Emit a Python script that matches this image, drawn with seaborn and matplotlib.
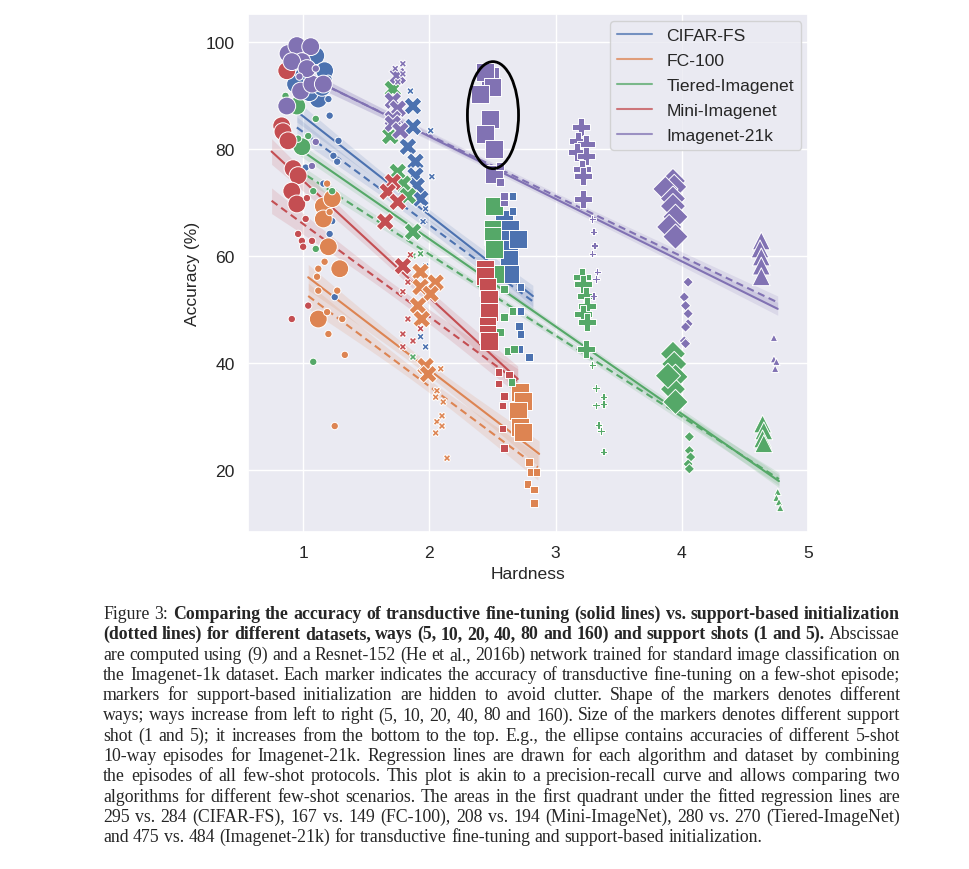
import matplotlib
matplotlib.use("Agg")
import matplotlib.pyplot as plt
import numpy as np
import pandas as pd
import seaborn as sns
from matplotlib.lines import Line2D
from matplotlib.patches import Ellipse

DATASETS = ["CIFAR-FS", "FC-100", "Tiered-Imagenet", "Mini-Imagenet", "Imagenet-21k"]
COLORS = ["#4C72B0", "#DD8452", "#55A868", "#C44E52", "#8172B3"]
WAYS = [5, 10, 20, 40, 80, 160]
WAY_MARKERS = ["o", "X", "s", "P", "D", "^"]

# episodes: (way, shot, hardness, accuracy)
cifar_fs = [
    (5, 5, 1.10, 97.4), (5, 5, 1.17, 94.6), (5, 5, 1.00, 93.5), (5, 5, 0.94, 92.1),
    (5, 5, 1.12, 89.3), (5, 5, 1.05, 90.5), (5, 5, 1.15, 91.5),
    (5, 1, 1.20, 93.1), (5, 1, 1.20, 89.3), (5, 1, 1.21, 86.2), (5, 1, 1.28, 81.5),
    (5, 1, 1.24, 78.7), (5, 1, 1.27, 77.6), (5, 1, 1.02, 76.5), (5, 1, 1.16, 73.5),
    (5, 1, 1.23, 66.5), (5, 1, 1.21, 64.1), (5, 1, 1.25, 52.3),
    (10, 5, 1.87, 88.0), (10, 5, 1.87, 84.1), (10, 5, 1.83, 80.4), (10, 5, 1.89, 77.6),
    (10, 5, 1.89, 75.0), (10, 5, 1.90, 73.1), (10, 5, 1.93, 70.7),
    (10, 1, 1.85, 90.8), (10, 1, 2.01, 83.4), (10, 1, 2.02, 74.8), (10, 1, 1.97, 68.8),
    (10, 1, 1.95, 66.4), (10, 1, 1.97, 58.1), (10, 1, 1.93, 44.9), (10, 1, 1.97, 43.0),
    (20, 5, 2.59, 66.9), (20, 5, 2.64, 65.0), (20, 5, 2.60, 63.2), (20, 5, 2.63, 61.3),
    (20, 5, 2.63, 59.4), (20, 5, 2.64, 56.6), (20, 5, 2.70, 63.2),
    (20, 1, 2.66, 71.2), (20, 1, 2.66, 68.4), (20, 1, 2.72, 54.2), (20, 1, 2.72, 49.7),
    (20, 1, 2.71, 46.9), (20, 1, 2.72, 45.4), (20, 1, 2.71, 42.6), (20, 1, 2.79, 41.1),
]

fc_100 = [
    (5, 5, 1.16, 69.3), (5, 5, 1.23, 70.7), (5, 5, 1.16, 66.9), (5, 5, 1.20, 61.7),
    (5, 5, 1.29, 57.6), (5, 5, 1.12, 48.2),
    (5, 1, 1.19, 73.5), (5, 1, 1.21, 68.2), (5, 1, 1.17, 58.9), (5, 1, 1.12, 57.6),
    (5, 1, 1.11, 56.1), (5, 1, 1.27, 53.5), (5, 1, 1.12, 53.5), (5, 1, 1.19, 49.5),
    (5, 1, 1.31, 48.2), (5, 1, 1.20, 45.4), (5, 1, 1.33, 41.5), (5, 1, 1.25, 28.2),
    (10, 5, 1.93, 57.0), (10, 5, 2.05, 55.0), (10, 5, 1.93, 54.2), (10, 5, 2.01, 52.9),
    (10, 5, 1.91, 50.7), (10, 5, 1.94, 48.2), (10, 5, 1.97, 39.4), (10, 5, 1.99, 37.9),
    (10, 1, 2.09, 38.9), (10, 1, 2.06, 34.8), (10, 1, 2.11, 32.7), (10, 1, 2.05, 33.6),
    (10, 1, 2.10, 30.1), (10, 1, 2.06, 29.0), (10, 1, 2.10, 28.2), (10, 1, 2.05, 26.9),
    (10, 1, 2.14, 22.2),
    (20, 5, 2.72, 34.6), (20, 5, 2.74, 32.9), (20, 5, 2.70, 31.0), (20, 5, 2.72, 28.0),
    (20, 5, 2.74, 27.1),
    (20, 1, 2.79, 21.5), (20, 1, 2.80, 19.6), (20, 1, 2.85, 19.6), (20, 1, 2.78, 17.4),
    (20, 1, 2.83, 16.4), (20, 1, 2.83, 13.8),
]

tiered_imagenet = [
    (5, 5, 0.95, 88.0), (5, 5, 0.99, 80.4),
    (5, 1, 0.86, 89.9), (5, 1, 1.10, 85.6), (5, 1, 1.04, 82.4), (5, 1, 0.96, 81.9),
    (5, 1, 1.10, 61.3), (5, 1, 1.08, 40.2), (5, 1, 1.08, 72.1), (5, 1, 1.23, 72.1),
    (10, 5, 1.71, 91.2), (10, 5, 1.69, 82.4), (10, 5, 1.75, 75.7), (10, 5, 1.79, 73.5),
    (10, 5, 1.83, 71.2), (10, 5, 1.87, 64.5),
    (10, 1, 1.87, 60.0), (10, 1, 1.93, 60.4), (10, 1, 1.87, 41.1),
    (20, 5, 2.51, 69.3), (20, 5, 2.50, 65.0), (20, 5, 2.50, 63.7), (20, 5, 2.51, 61.3),
    (20, 5, 2.52, 56.6),
    (20, 1, 2.59, 48.6), (20, 1, 2.66, 49.7), (20, 1, 2.56, 45.8), (20, 1, 2.62, 42.2),
    (20, 1, 2.67, 42.6), (20, 1, 2.59, 53.8), (20, 1, 2.65, 36.4),
    (40, 5, 3.21, 56.1), (40, 5, 3.22, 54.8), (40, 5, 3.24, 52.5), (40, 5, 3.25, 50.7),
    (40, 5, 3.22, 49.2), (40, 5, 3.25, 47.7), (40, 5, 3.24, 42.6),
    (40, 1, 3.29, 39.6), (40, 1, 3.32, 35.3), (40, 1, 3.38, 33.6), (40, 1, 3.32, 32.1),
    (40, 1, 3.38, 32.3), (40, 1, 3.34, 28.4), (40, 1, 3.36, 27.3), (40, 1, 3.38, 23.4),
    (80, 5, 3.93, 41.7), (80, 5, 3.94, 39.8), (80, 5, 3.95, 37.4), (80, 5, 3.93, 35.1),
    (80, 5, 3.95, 32.7), (80, 5, 3.89, 37.6),
    (80, 1, 4.06, 26.2), (80, 1, 4.06, 23.6), (80, 1, 4.07, 22.4), (80, 1, 4.05, 21.1),
    (80, 1, 4.06, 20.2),
    (160, 5, 4.64, 28.6), (160, 5, 4.65, 27.3), (160, 5, 4.64, 25.8), (160, 5, 4.65, 24.9),
    (160, 1, 4.76, 15.9), (160, 1, 4.75, 14.8), (160, 1, 4.77, 14.0), (160, 1, 4.78, 12.9),
]

mini_imagenet = [
    (5, 5, 0.87, 94.6), (5, 5, 0.83, 84.3), (5, 5, 0.84, 83.2), (5, 5, 0.88, 81.5),
    (5, 5, 0.92, 76.3), (5, 5, 0.96, 75.0), (5, 5, 0.91, 72.1), (5, 5, 0.95, 69.7),
    (5, 1, 1.02, 66.9), (5, 1, 0.96, 64.1), (5, 1, 0.99, 62.8), (5, 1, 1.00, 61.7),
    (5, 1, 1.07, 62.8), (5, 1, 1.04, 50.7), (5, 1, 0.91, 48.2), (5, 1, 1.03, 70.8),
    (10, 5, 1.71, 73.8), (10, 5, 1.67, 72.0), (10, 5, 1.75, 70.1), (10, 5, 1.65, 66.4),
    (10, 5, 1.79, 58.1),
    (10, 1, 1.85, 60.2), (10, 1, 1.83, 55.1), (10, 1, 1.79, 53.3), (10, 1, 1.83, 48.2),
    (10, 1, 1.79, 45.4), (10, 1, 1.79, 43.0), (10, 1, 1.87, 44.1), (10, 1, 1.93, 46.4),
    (20, 5, 2.44, 57.6), (20, 5, 2.44, 56.3), (20, 5, 2.46, 54.2), (20, 5, 2.47, 52.0),
    (20, 5, 2.47, 49.5), (20, 5, 2.46, 46.9), (20, 5, 2.46, 45.4), (20, 5, 2.47, 44.1),
    (20, 1, 2.55, 38.3), (20, 1, 2.63, 37.8), (20, 1, 2.55, 36.1), (20, 1, 2.59, 33.8),
    (20, 1, 2.58, 32.0), (20, 1, 2.58, 27.7), (20, 1, 2.59, 24.1),
]

imagenet_21k = [
    (5, 5, 0.88, 97.8), (5, 5, 0.95, 99.3), (5, 5, 1.06, 99.1), (5, 5, 0.99, 96.3),
    (5, 5, 0.91, 96.3), (5, 5, 0.98, 90.8), (5, 5, 1.07, 92.1), (5, 5, 0.87, 88.0),
    (5, 5, 1.16, 92.1), (5, 5, 1.03, 95.0),
    (5, 1, 1.10, 95.0), (5, 1, 0.97, 93.5), (5, 1, 1.10, 81.3), (5, 1, 1.07, 76.8),
    (10, 5, 1.71, 89.0), (10, 5, 1.75, 87.5), (10, 5, 1.71, 85.6), (10, 5, 1.71, 84.7),
    (10, 5, 1.77, 83.4), (10, 5, 1.75, 93.6),
    (10, 1, 1.73, 95.0), (10, 1, 1.79, 94.0), (10, 1, 1.75, 92.5), (10, 1, 1.79, 95.9),
    (20, 5, 2.48, 93.6), (20, 5, 2.44, 94.4), (20, 5, 2.50, 91.6), (20, 5, 2.40, 90.3),
    (20, 5, 2.48, 85.6), (20, 5, 2.44, 82.8), (20, 5, 2.51, 80.0), (20, 5, 2.51, 75.3),
    (20, 1, 2.56, 76.8), (20, 1, 2.56, 73.8), (20, 1, 2.59, 70.1), (20, 1, 2.59, 71.2),
    (40, 5, 3.20, 84.1), (40, 5, 3.18, 81.5), (40, 5, 3.24, 80.9), (40, 5, 3.17, 79.4),
    (40, 5, 3.24, 78.7), (40, 5, 3.21, 76.3), (40, 5, 3.22, 75.0), (40, 5, 3.22, 70.7),
    (40, 1, 3.29, 66.9), (40, 1, 3.30, 64.5), (40, 1, 3.31, 61.9), (40, 1, 3.29, 60.4),
    (40, 1, 3.33, 57.0), (40, 1, 3.32, 55.7), (40, 1, 3.30, 52.5),
    (80, 5, 3.93, 74.0), (80, 5, 3.94, 72.9), (80, 5, 3.87, 72.5), (80, 5, 3.93, 70.7),
    (80, 5, 3.93, 69.3), (80, 5, 3.95, 67.3), (80, 5, 3.90, 65.4), (80, 5, 3.95, 63.6),
    (80, 1, 4.05, 55.1), (80, 1, 4.02, 52.3), (80, 1, 4.03, 50.7), (80, 1, 4.05, 49.2),
    (80, 1, 4.05, 47.3), (80, 1, 4.03, 46.7), (80, 1, 4.02, 44.1), (80, 1, 4.03, 43.6),
    (160, 5, 4.63, 62.8), (160, 5, 4.62, 61.3), (160, 5, 4.63, 59.8), (160, 5, 4.63, 58.1),
    (160, 5, 4.63, 56.1),
    (160, 1, 4.73, 44.7), (160, 1, 4.73, 40.7), (160, 1, 4.75, 40.2), (160, 1, 4.74, 38.9),
]

# fitted regression lines: (x start, y start, x end, y end)
finetune_lines = [
    (0.95, 87.0, 2.82, 52.5),
    (1.04, 56.0, 2.87, 23.0),
    (0.95, 80.3, 4.77, 17.9),
    (0.75, 79.5, 2.70, 37.0),
    (0.87, 95.5, 4.76, 50.1),
]
support_lines = [
    (0.95, 84.0, 2.82, 51.5),
    (1.04, 52.5, 2.86, 20.5),
    (0.95, 76.2, 4.77, 18.3),
    (0.75, 70.3, 2.70, 36.5),
    (0.87, 95.3, 4.76, 51.3),
]
# confidence band half width (middle, ends)
band_widths = [(1.0, 2.0), (1.2, 2.4), (0.6, 1.2), (1.2, 2.4), (0.6, 1.2)]

CAPTION = [
    [("Figure 3:", False), ("Comparing the accuracy of transductive fine-tuning (solid lines) vs. support-based initialization", True)],
    [("(dotted lines) for different datasets, ways (5, 10, 20, 40, 80 and 160) and support shots (1 and 5).", True), ("Abscissae", False)],
    [("are computed using (9) and a Resnet-152 (He et al., 2016b) network trained for standard image classification on", False)],
    [("the Imagenet-1k dataset. Each marker indicates the accuracy of transductive fine-tuning on a few-shot episode;", False)],
    [("markers for support-based initialization are hidden to avoid clutter. Shape of the markers denotes different", False)],
    [("ways; ways increase from left to right (5, 10, 20, 40, 80 and 160). Size of the markers denotes different support", False)],
    [("shot (1 and 5); it increases from the bottom to the top. E.g., the ellipse contains accuracies of different 5-shot", False)],
    [("10-way episodes for Imagenet-21k. Regression lines are drawn for each algorithm and dataset by combining", False)],
    [("the episodes of all few-shot protocols. This plot is akin to a precision-recall curve and allows comparing two", False)],
    [("algorithms for different few-shot scenarios. The areas in the first quadrant under the fitted regression lines are", False)],
    [("295 vs. 284 (CIFAR-FS), 167 vs. 149 (FC-100), 208 vs. 194 (Mini-ImageNet), 280 vs. 270 (Tiered-ImageNet)", False)],
    [("and 475 vs. 484 (Imagenet-21k) for transductive fine-tuning and support-based initialization.", False)],
]


def build_frame() -> pd.DataFrame:
    frames = []
    for name, rows in zip(DATASETS, [cifar_fs, fc_100, tiered_imagenet, mini_imagenet, imagenet_21k]):
        df = pd.DataFrame(rows, columns=["way", "shot", "hardness", "accuracy"])
        df["dataset"] = name
        frames.append(df)
    return pd.concat(frames, ignore_index=True)


def draw_fit(ax, line, color, widths, dashed):
    x0, y0, x1, y1 = line
    xs = np.linspace(x0, x1, 60)
    ys = y0 + (y1 - y0) * (xs - x0) / (x1 - x0)
    t = (xs - (x0 + x1) / 2) / ((x1 - x0) / 2)
    hw = np.sqrt(widths[0] ** 2 + (widths[1] ** 2 - widths[0] ** 2) * t ** 2)
    ax.fill_between(xs, ys - hw, ys + hw, color=color, alpha=0.15, lw=0, zorder=2)
    ax.plot(xs, ys, color=color, lw=1.5, ls=(0, (3.5, 2.2)) if dashed else "-", zorder=2.5)


def draw_caption(fig, lines, left, right, top, step):
    W, H = fig.bbox.width, fig.bbox.height
    renderer = fig.canvas.get_renderer()
    serif = "Liberation Serif"

    def words_of(tokens):
        out = []
        for text, bold in tokens:
            out += [(w, bold) for w in text.split()]
        return out

    # pick a size so the widest line fits the text block
    probe = fig.text(0, 0, " ".join(t for t, _ in lines[5]), fontsize=12, family=serif)
    natural = probe.get_window_extent(renderer).width
    probe.remove()
    size = 12 * (right - left) / natural * 0.985

    for i, tokens in enumerate(lines):
        y = 1 - (top + i * step) / H
        words = words_of(tokens)
        arts = [fig.text(0, y, w, fontsize=size, family=serif,
                         weight="bold" if b else "normal", va="baseline")
                for w, b in words]
        widths = [a.get_window_extent(renderer).width for a in arts]
        if i < len(lines) - 1:
            gap = (right - left - sum(widths)) / (len(words) - 1)
        else:
            gap = size * 100 / 72 * 0.25
        x = left
        for a, w in zip(arts, widths):
            a.set_x(x / W)
            x += w + gap


def plot(df: pd.DataFrame) -> None:
    sns.set_theme(style="darkgrid")
    plt.rcParams["font.family"] = ["Liberation Sans", "DejaVu Sans"]

    fig = plt.figure(figsize=(9.69, 8.7), dpi=100)
    ax = fig.add_axes([248 / 969, 1 - 533 / 870, 560 / 969, 518 / 870])

    for line, color, widths in zip(finetune_lines, COLORS, band_widths):
        draw_fit(ax, line, color, widths, dashed=False)
    for line, color, widths in zip(support_lines, COLORS, band_widths):
        draw_fit(ax, line, color, widths, dashed=True)

    sns.scatterplot(
        data=df, x="hardness", y="accuracy",
        hue="dataset", hue_order=DATASETS, palette=COLORS,
        style="way", style_order=WAYS, markers=dict(zip(WAYS, WAY_MARKERS)),
        size="shot", sizes={1: 28, 5: 165},
        edgecolor="white", linewidth=0.7, legend=False, ax=ax, zorder=3,
    )

    # ellipse around the 5-shot Imagenet-21k square episodes
    ax.add_patch(Ellipse((2.504, 86.3), 0.405, 20.0, fill=False, ec="black", lw=2, zorder=4))

    ax.set_xlim(0.563, 5.0)
    ax.set_ylim(8.4, 105.2)
    ax.set_xticks([1, 2, 3, 4, 5])
    ax.set_yticks([20, 40, 60, 80, 100])
    ax.tick_params(axis="both", labelsize=12.6)
    ax.set_xlabel("Hardness", fontsize=12.6)
    ax.set_ylabel("Accuracy (%)", fontsize=12.6)

    handles = [Line2D([], [], color=c, lw=1.5, alpha=0.75) for c in COLORS]
    ax.legend(handles, DATASETS, loc="upper right", fontsize=12.6,
              labelspacing=0.55, borderaxespad=0.4)

    draw_caption(fig, CAPTION, left=103, right=900, top=619, step=20.3)

    fig.savefig("out.png", dpi=100, facecolor="white")


def main() -> None:
    df = build_frame()
    plot(df)


if __name__ == "__main__":
    main()
